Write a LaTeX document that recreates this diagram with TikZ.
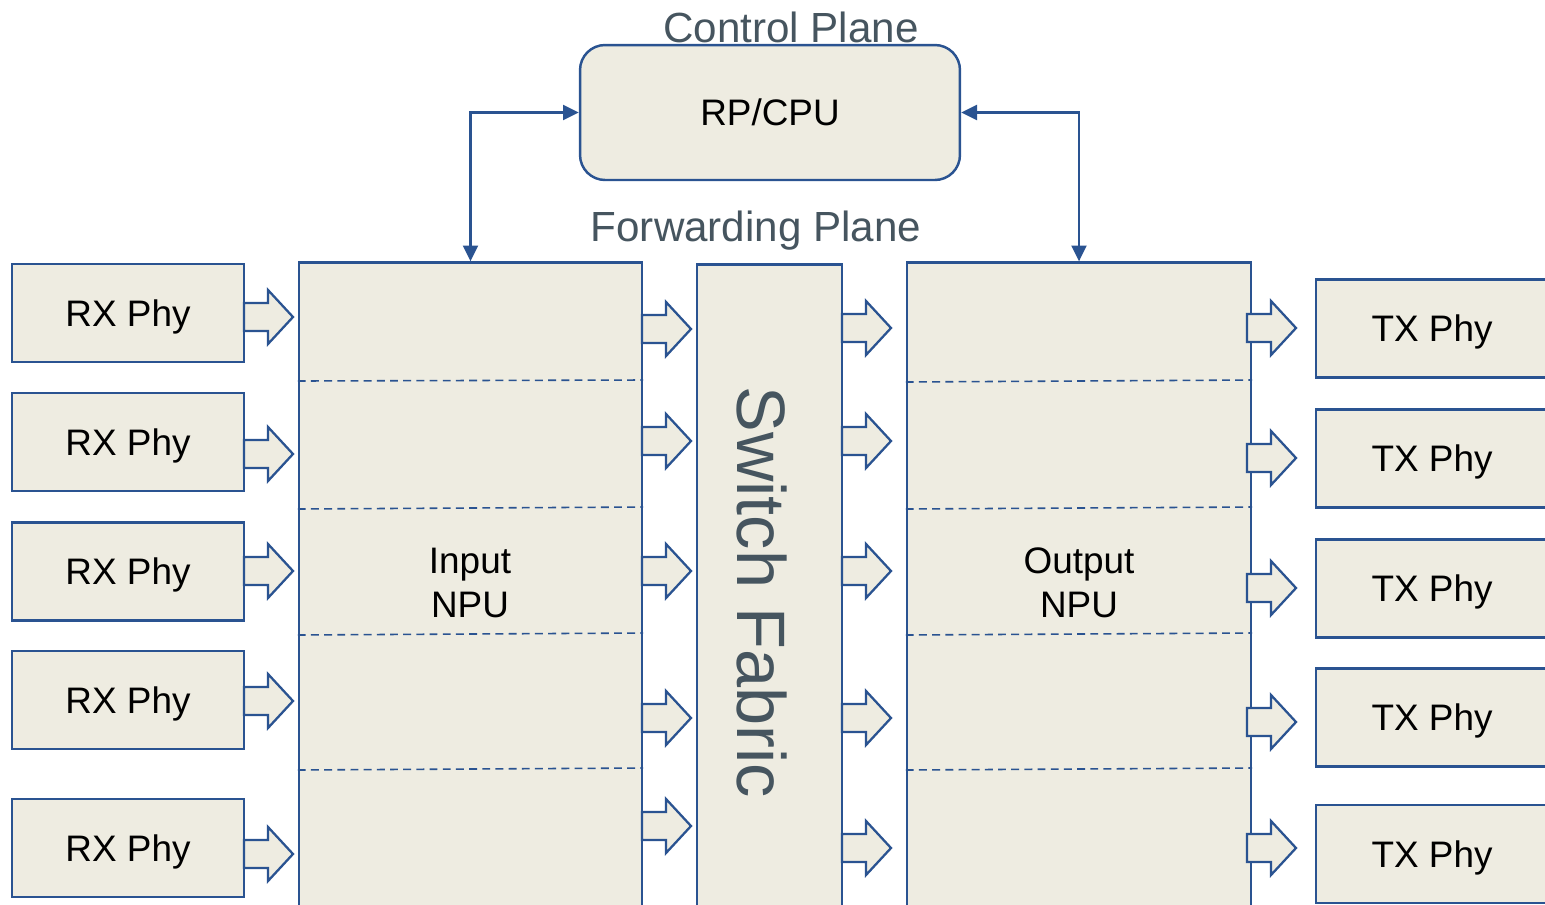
\documentclass[tikz,border=0pt]{standalone}
\usepackage{fontspec}
\setmainfont{Liberation Sans}
\usetikzlibrary{arrows.meta}
\definecolor{panel-tan}{HTML}{EEECE1}
\definecolor{edge-blue}{HTML}{2A5391}
\definecolor{label-slate}{HTML}{46555F}

% hollow block arrow: left end x, centre y
\newcommand{\flowarrow}[2]{%
  \draw[flow] (#1,#2) ++(0,-14) -- ++(24,0) -- ++(0,-13) -- ++(25,27)
    -- ++(-25,27) -- ++(0,-13) -- ++(-24,0) -- cycle;}

\begin{document}
\begin{tikzpicture}[x=0.02cm, y=-0.02cm,
    box/.style={draw=edge-blue, fill=panel-tan, line width=1.4pt, inner sep=0pt},
    phy/.style={box, minimum width=4.64cm, minimum height=1.96cm, text depth=0pt, font=\fontsize{21}{25}\selectfont},
    flow/.style={draw=edge-blue, fill=panel-tan, line width=1.3pt, line join=miter},
    divider/.style={draw=edge-blue, line width=0.9pt, dash pattern=on 4.5pt off 3pt},
    link/.style={draw=edge-blue, line width=1.3pt, {Triangle[length=9pt,width=8.5pt]}-{Triangle[length=9pt,width=8.5pt]}},
    heading/.style={text=label-slate, font=\fontsize{24}{28}\selectfont}]
  \useasboundingbox (0,0) rectangle (1545,904);
  \clip (0,0) rectangle (1545,904);

  % control plane
  \node[heading] (ctrl) at (791,27) {Control Plane};
  \node[box, rounded corners=0.5cm, minimum width=7.6cm, minimum height=2.7cm,
        text depth=0pt, font=\fontsize{21}{25}\selectfont] (rpcpu) at (770,112.5) {RP/CPU};
  \node[heading] (fwd) at (756,231) {Forwarding Plane};

  % phys
  \node[phy] (rx1) at (128,313) {RX Phy};
  \node[phy] (rx2) at (128,442) {RX Phy};
  \node[phy] (rx3) at (128,571.5) {RX Phy};
  \node[phy] (rx4) at (128,700) {RX Phy};
  \node[phy] (rx5) at (128,848) {RX Phy};

  \node[phy] (tx1) at (1432,328.5) {TX Phy};
  \node[phy] (tx2) at (1432,458.5) {TX Phy};
  \node[phy] (tx3) at (1432,588.5) {TX Phy};
  \node[phy] (tx4) at (1432,717.5) {TX Phy};
  \node[phy] (tx5) at (1432,854) {TX Phy};

  % npus and fabric
  \node[box, minimum width=6.86cm, minimum height=13.3cm] (innpu) at (470.5,595) {};
  \node[box, minimum width=2.9cm, minimum height=13.3cm] (fabric) at (769.5,597) {};
  \node[box, minimum width=6.88cm, minimum height=13.3cm] (outnpu) at (1079,595) {};

  \node[align=center, font=\fontsize{21}{25}\selectfont] (inlbl) at (470,583) {Input\\NPU};
  \node[align=center, font=\fontsize{21}{25}\selectfont] (outlbl) at (1079,583) {Output\\NPU};
  \node[rotate=-90, text=label-slate, font=\fontsize{39}{44}\selectfont] (fablbl) at (762,592) {Switch Fabric};

  \draw[divider] (innpu.west |- 0,381) -- (innpu.east |- 0,380);
  \draw[divider] (innpu.west |- 0,509) -- (innpu.east |- 0,507);
  \draw[divider] (innpu.west |- 0,635) -- (innpu.east |- 0,633);
  \draw[divider] (innpu.west |- 0,770) -- (innpu.east |- 0,768);
  \draw[divider] (outnpu.west |- 0,382) -- (outnpu.east |- 0,380);
  \draw[divider] (outnpu.west |- 0,509) -- (outnpu.east |- 0,507);
  \draw[divider] (outnpu.west |- 0,635) -- (outnpu.east |- 0,633);
  \draw[divider] (outnpu.west |- 0,770) -- (outnpu.east |- 0,768);

  % control links
  \draw[link] (innpu.north) |- (rpcpu.west);
  \draw[link] (outnpu.north) |- (rpcpu.east);

  % data flow
  \flowarrow{244}{317}
  \flowarrow{244}{454}
  \flowarrow{244}{571}
  \flowarrow{244}{701}
  \flowarrow{244}{854}

  \flowarrow{642}{329}
  \flowarrow{642}{441}
  \flowarrow{642}{571}
  \flowarrow{642}{718}
  \flowarrow{642}{826}

  \flowarrow{842}{328}
  \flowarrow{842}{441}
  \flowarrow{842}{571}
  \flowarrow{842}{718}
  \flowarrow{842}{848}

  \flowarrow{1247}{328}
  \flowarrow{1247}{458}
  \flowarrow{1247}{588}
  \flowarrow{1247}{722}
  \flowarrow{1247}{848}
\end{tikzpicture}
\end{document}
